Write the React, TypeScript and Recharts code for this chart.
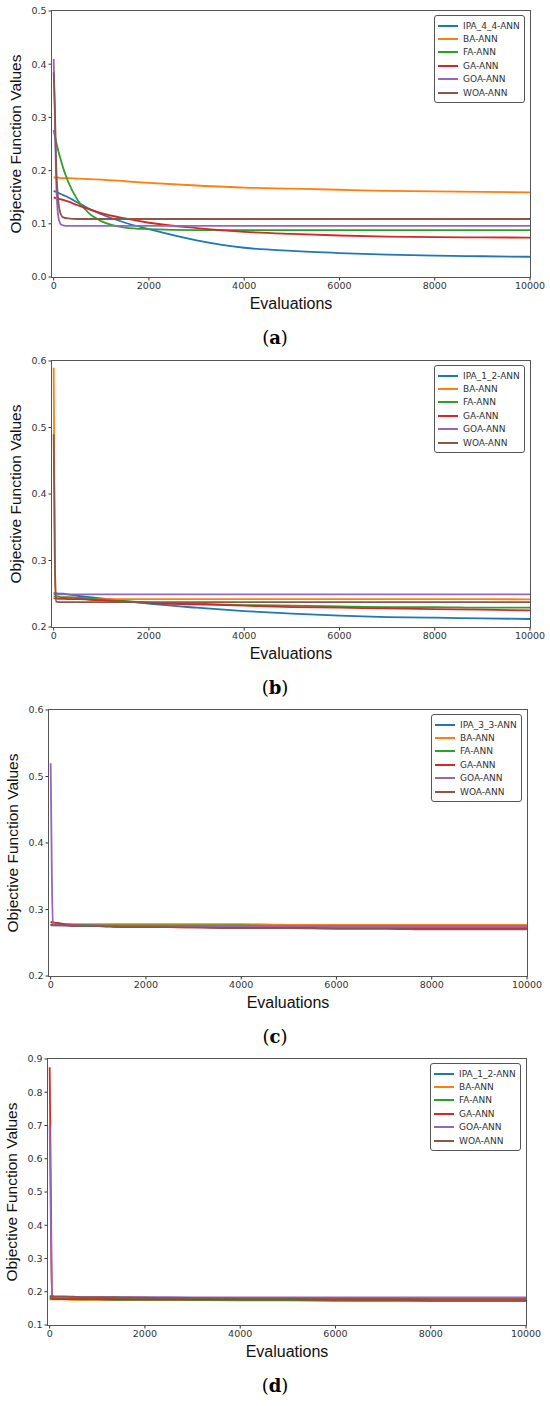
import React from "react";
import { Legend, Line, LineChart, XAxis, YAxis } from "recharts";

// shared x positions (evaluations)
const evaluations = [0, 25, 50, 100, 150, 200, 300, 500, 750, 1000, 1500, 2000, 3000, 4000, 5000, 6000, 7000, 8000, 9000, 10000];
const xTicks = [0, 2000, 4000, 6000, 8000, 10000];
const otherNames = ["BA-ANN", "FA-ANN", "GA-ANN", "GOA-ANN", "WOA-ANN"];
const colors = ["#1f77b4", "#ff7f0e", "#2ca02c", "#d62728", "#9467bd", "#8c564b"];

// (a)
const aIpa = [0.162, 0.161, 0.16, 0.158, 0.156, 0.154, 0.15, 0.14, 0.128, 0.118, 0.102, 0.09, 0.069, 0.055, 0.049, 0.045, 0.042, 0.04, 0.039, 0.038];
const aBa = [0.187, 0.187, 0.187, 0.187, 0.186, 0.186, 0.186, 0.185, 0.184, 0.183, 0.18, 0.177, 0.172, 0.168, 0.166, 0.164, 0.162, 0.161, 0.16, 0.159];
const aFa = [0.276, 0.265, 0.255, 0.236, 0.22, 0.205, 0.18, 0.145, 0.119, 0.105, 0.093, 0.09, 0.088, 0.088, 0.088, 0.088, 0.088, 0.088, 0.088, 0.088];
const aGa = [0.149, 0.149, 0.148, 0.147, 0.146, 0.145, 0.142, 0.135, 0.127, 0.12, 0.11, 0.102, 0.092, 0.085, 0.081, 0.078, 0.076, 0.075, 0.0745, 0.074];
const aGoa = [0.41, 0.3, 0.19, 0.112, 0.099, 0.097, 0.096, 0.096, 0.096, 0.096, 0.096, 0.096, 0.096, 0.096, 0.096, 0.096, 0.096, 0.096, 0.096, 0.096];
const aWoa = [0.385, 0.32, 0.22, 0.14, 0.118, 0.112, 0.11, 0.109, 0.109, 0.109, 0.109, 0.109, 0.109, 0.109, 0.109, 0.109, 0.109, 0.109, 0.109, 0.109];

// (b)
const bIpa = [0.251, 0.251, 0.251, 0.25, 0.25, 0.25, 0.249, 0.247, 0.245, 0.243, 0.239, 0.235, 0.229, 0.224, 0.22, 0.217, 0.215, 0.214, 0.213, 0.212];
const bBa = [0.59, 0.3, 0.243, 0.242, 0.242, 0.242, 0.242, 0.242, 0.242, 0.242, 0.242, 0.242, 0.242, 0.242, 0.242, 0.242, 0.242, 0.242, 0.242, 0.2415];
const bFa = [0.246, 0.246, 0.246, 0.246, 0.245, 0.245, 0.245, 0.244, 0.243, 0.241, 0.239, 0.237, 0.235, 0.233, 0.232, 0.231, 0.23, 0.23, 0.229, 0.229];
const bGa = [0.243, 0.243, 0.243, 0.243, 0.243, 0.243, 0.242, 0.242, 0.241, 0.24, 0.238, 0.236, 0.234, 0.232, 0.23, 0.229, 0.228, 0.227, 0.226, 0.225];
const bGoa = [0.249, 0.249, 0.249, 0.249, 0.249, 0.249, 0.249, 0.249, 0.249, 0.249, 0.249, 0.249, 0.249, 0.249, 0.249, 0.249, 0.249, 0.249, 0.249, 0.249];
const bWoa = [0.49, 0.3, 0.238, 0.2375, 0.2375, 0.2375, 0.2375, 0.2375, 0.2375, 0.2375, 0.2375, 0.2375, 0.2375, 0.2375, 0.2375, 0.2375, 0.2375, 0.2375, 0.2375, 0.2375];

// (c)
const cIpa = [0.277, 0.277, 0.277, 0.277, 0.277, 0.277, 0.276, 0.276, 0.275, 0.275, 0.274, 0.274, 0.274, 0.273, 0.273, 0.272, 0.272, 0.272, 0.272, 0.272];
const cBa = [0.278, 0.278, 0.278, 0.278, 0.278, 0.278, 0.278, 0.278, 0.278, 0.278, 0.278, 0.278, 0.278, 0.278, 0.277, 0.277, 0.277, 0.277, 0.277, 0.277];
const cFa = [0.277, 0.277, 0.277, 0.277, 0.277, 0.277, 0.277, 0.277, 0.277, 0.276, 0.276, 0.276, 0.276, 0.276, 0.275, 0.275, 0.275, 0.275, 0.275, 0.275];
const cGa = [0.282, 0.281, 0.281, 0.28, 0.28, 0.279, 0.278, 0.277, 0.275, 0.275, 0.274, 0.274, 0.273, 0.273, 0.272, 0.272, 0.272, 0.272, 0.272, 0.272];
const cGoa = [0.52, 0.35, 0.278, 0.276, 0.276, 0.276, 0.276, 0.276, 0.276, 0.276, 0.275, 0.275, 0.275, 0.275, 0.275, 0.274, 0.274, 0.274, 0.274, 0.274];
const cWoa = [0.276, 0.276, 0.276, 0.276, 0.276, 0.276, 0.276, 0.275, 0.275, 0.275, 0.274, 0.274, 0.273, 0.272, 0.272, 0.271, 0.271, 0.27, 0.27, 0.27];

// (d)
const dIpa = [0.183, 0.183, 0.183, 0.183, 0.183, 0.183, 0.182, 0.182, 0.181, 0.181, 0.18, 0.18, 0.179, 0.179, 0.178, 0.178, 0.178, 0.177, 0.177, 0.177];
const dBa = [0.177, 0.177, 0.177, 0.177, 0.177, 0.177, 0.177, 0.176, 0.176, 0.176, 0.176, 0.176, 0.175, 0.175, 0.175, 0.175, 0.174, 0.174, 0.174, 0.174];
const dFa = [0.179, 0.179, 0.179, 0.179, 0.179, 0.179, 0.178, 0.178, 0.177, 0.177, 0.176, 0.176, 0.175, 0.174, 0.174, 0.173, 0.173, 0.172, 0.172, 0.172];
const dGa = [0.875, 0.5, 0.18, 0.178, 0.178, 0.178, 0.178, 0.178, 0.178, 0.178, 0.177, 0.177, 0.177, 0.177, 0.177, 0.176, 0.176, 0.176, 0.176, 0.176];
const dGoa = [0.7, 0.4, 0.186, 0.184, 0.184, 0.184, 0.184, 0.184, 0.184, 0.184, 0.184, 0.184, 0.183, 0.183, 0.183, 0.183, 0.183, 0.183, 0.183, 0.183];
const dWoa = [0.187, 0.187, 0.187, 0.186, 0.186, 0.186, 0.186, 0.185, 0.184, 0.184, 0.183, 0.182, 0.181, 0.18, 0.18, 0.179, 0.179, 0.178, 0.178, 0.178];

const panels = [
  { letter: "a", ipa: "IPA_4_4-ANN", yTicks: [0, 0.1, 0.2, 0.3, 0.4, 0.5], series: [aIpa, aBa, aFa, aGa, aGoa, aWoa] },
  { letter: "b", ipa: "IPA_1_2-ANN", yTicks: [0.2, 0.3, 0.4, 0.5, 0.6], series: [bIpa, bBa, bFa, bGa, bGoa, bWoa] },
  { letter: "c", ipa: "IPA_3_3-ANN", yTicks: [0.2, 0.3, 0.4, 0.5, 0.6], series: [cIpa, cBa, cFa, cGa, cGoa, cWoa] },
  { letter: "d", ipa: "IPA_1_2-ANN", yTicks: [0.1, 0.2, 0.3, 0.4, 0.5, 0.6, 0.7, 0.8, 0.9], series: [dIpa, dBa, dFa, dGa, dGoa, dWoa] },
];

// plot box of each panel on the page
const boxes = [
  { top: 11, left: 52, right: 530 },
  { top: 361, left: 52, right: 530 },
  { top: 710, left: 49, right: 527 },
  { top: 1059, left: 48, right: 526 },
];

const PLOT_H = 266;
const CHART_H = 300;
const labelFont = "'Liberation Sans', Arial, sans-serif";
const tickFont = "'DejaVu Sans', sans-serif";

function LegendBox({ payload }: any) {
  return (
    <div
      style={{
        border: "1px solid #555",
        borderRadius: 3,
        background: "#fff",
        padding: "3px 4px 3px 3px",
        fontFamily: tickFont,
        fontSize: 9,
        color: "#333",
        width: 82,
      }}
    >
      {(payload || []).map((p: any) => (
        <div key={p.value} style={{ display: "flex", alignItems: "center", height: 13.4 }}>
          <span style={{ display: "inline-block", width: 20, height: 2, background: p.color, marginRight: 5 }} />
          <span style={{ whiteSpace: "nowrap" }}>{p.value}</span>
        </div>
      ))}
    </div>
  );
}

function Panel({ idx }: { idx: number }) {
  const p = panels[idx];
  const box = boxes[idx];
  const names = [p.ipa, ...otherNames];
  const rows = evaluations.map((x, i) => {
    const row: any = { x };
    p.series.forEach((s, k) => (row["s" + k] = s[i]));
    return row;
  });
  const yMin = p.yTicks[0];
  const yMax = p.yTicks[p.yTicks.length - 1];
  const panelTop = box.top - 11;
  const plotW = box.right - box.left;

  return (
    <div style={{ position: "absolute", left: 0, top: panelTop, width: 550, height: 350 }}>
      <LineChart
        width={550}
        height={CHART_H}
        data={rows}
        margin={{ top: 11, right: 550 - box.right, left: 0, bottom: 0 }}
      >
        <XAxis
          dataKey="x"
          type="number"
          domain={[-35, 10000]}
          ticks={xTicks}
          axisLine={false}
          tickSize={3.5}
          tickLine={{ stroke: "#333" }}
          height={CHART_H - 11 - PLOT_H}
          tick={{ fontSize: 9.5, fill: "#333", fontFamily: tickFont }}
          interval={0}
        />
        <YAxis
          type="number"
          domain={[yMin, yMax]}
          ticks={p.yTicks}
          allowDataOverflow
          axisLine={false}
          tickSize={3.5}
          tickLine={{ stroke: "#333" }}
          width={box.left}
          tickFormatter={(v: number) => v.toFixed(1)}
          tick={{ fontSize: 9.5, fill: "#333", fontFamily: tickFont }}
          interval={0}
        />
        <Legend
          layout="vertical"
          align="center"
          verticalAlign="middle"
          itemSorter="dataKey"
          content={LegendBox}
          wrapperStyle={{ left: box.right - 96, top: 15, width: "auto", height: "auto" }}
        />
        {names.map((n, k) => (
          <Line
            key={n}
            type="monotone"
            dataKey={"s" + k}
            name={n}
            stroke={colors[k]}
            strokeWidth={1.8}
            dot={false}
            isAnimationActive={false}
          />
        ))}
      </LineChart>
      {/* axes frame */}
      <div
        style={{
          position: "absolute",
          left: box.left - 1,
          top: 10,
          width: plotW,
          height: PLOT_H,
          border: "1.3px solid #555",
          pointerEvents: "none",
        }}
      />
      <div
        style={{
          position: "absolute",
          left: box.left - 36 - 100,
          top: 11 + PLOT_H / 2 - 10,
          width: 200,
          height: 20,
          lineHeight: "20px",
          textAlign: "center",
          transform: "rotate(-90deg)",
          fontFamily: labelFont,
          fontSize: 15.5,
          color: "#111",
          whiteSpace: "nowrap",
        }}
      >
        Objective Function Values
      </div>
      <div
        style={{
          position: "absolute",
          left: box.left,
          width: plotW,
          top: 11 + 284,
          textAlign: "center",
          fontFamily: labelFont,
          fontSize: 16,
          color: "#111",
        }}
      >
        Evaluations
      </div>
      <div
        style={{
          position: "absolute",
          left: 0,
          width: 550,
          top: 11 + 316,
          textAlign: "center",
          fontFamily: "'DejaVu Serif', 'Liberation Serif', serif",
          fontSize: 18,
          color: "#000",
        }}
      >
        (<b>{p.letter}</b>)
      </div>
    </div>
  );
}

export default function App() {
  return (
    <div style={{ position: "absolute", left: 0, top: 0, width: 550, height: 1406, background: "#fff" }}>
      {panels.map((_, i) => (
        <Panel key={i} idx={i} />
      ))}
    </div>
  );
}
